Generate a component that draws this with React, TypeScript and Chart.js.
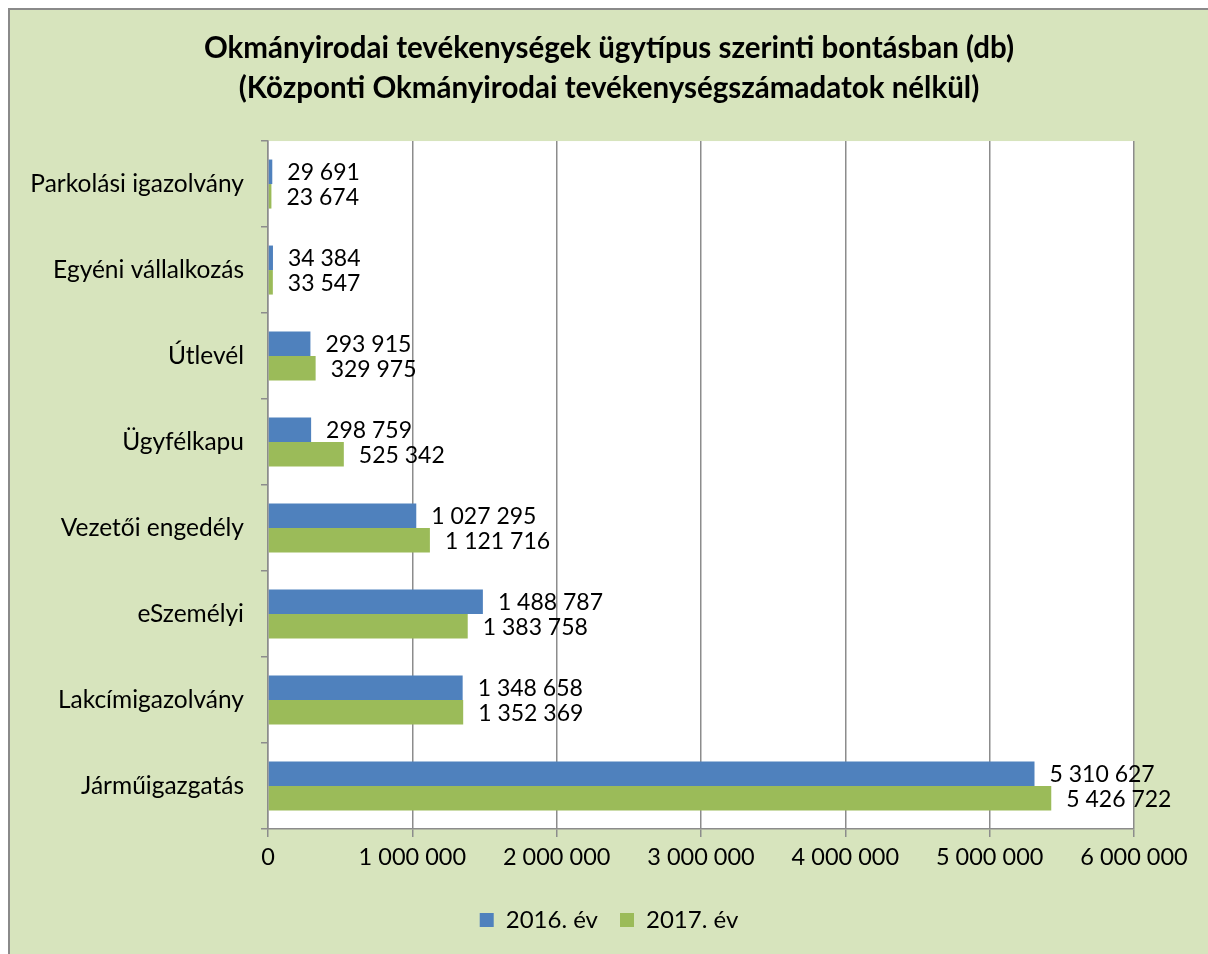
import React, { useEffect, useRef } from "react";
import { Chart, registerables } from "chart.js";

Chart.register(...registerables);

const categories = [
  "Parkolási igazolvány",
  "Egyéni vállalkozás",
  "Útlevél",
  "Ügyfélkapu",
  "Vezetői engedély",
  "eSzemélyi",
  "Lakcímigazolvány",
  "Járműigazgatás",
];
const values2016 = [29691, 34384, 293915, 298759, 1027295, 1488787, 1348658, 5310627];
const values2017 = [23674, 33547, 329975, 525342, 1121716, 1383758, 1352369, 5426722];
const seriesNames = ["2016. év", "2017. év"];
const titleLines = [
  "Okmányirodai tevékenységek ügytípus szerinti bontásban (db)",
  "(Központi Okmányirodai tevékenységszámadatok nélkül)",
];

const fmt = (n: number) => String(Math.round(n)).replace(/\B(?=(\d{3})+(?!\d))/g, " ");

const FONT = "Lato";

const plotBg = {
  id: "plotBg",
  beforeDraw(chart: any) {
    const { ctx, chartArea } = chart;
    ctx.save();
    ctx.fillStyle = "#ffffff";
    ctx.fillRect(chartArea.left, chartArea.top, chartArea.right - chartArea.left, chartArea.bottom - chartArea.top);
    ctx.restore();
  },
};

const valueLabels = {
  id: "valueLabels",
  afterDatasetsDraw(chart: any) {
    const { ctx } = chart;
    ctx.save();
    ctx.font = `23px ${FONT}`;
    ctx.fillStyle = "#000000";
    ctx.textAlign = "left";
    ctx.textBaseline = "middle";
    chart.data.datasets.forEach((ds: any, i: number) => {
      const meta = chart.getDatasetMeta(i);
      meta.data.forEach((el: any, j: number) => {
        ctx.fillText(fmt(ds.data[j]), el.x + 15, el.y + 1);
      });
    });
    ctx.restore();
  },
};

export default function App() {
  const ref = useRef<HTMLCanvasElement>(null);
  useEffect(() => {
    document.documentElement.style.overflow = "hidden";
    const canvas = ref.current!;
    const chart = new Chart(canvas, {
      type: "bar",
      data: {
        labels: categories,
        datasets: [
          { label: seriesNames[0], data: values2016, backgroundColor: "#4f81bd", categoryPercentage: 0.57, barPercentage: 1 },
          { label: seriesNames[1], data: values2017, backgroundColor: "#9bbb59", categoryPercentage: 0.57, barPercentage: 1 },
        ],
      },
      options: {
        indexAxis: "y",
        responsive: false,
        animation: false,
        layout: { padding: { left: 0, right: 0, top: 0, bottom: 12 } },
        font: { family: FONT },
        plugins: {
          title: {
            display: true,
            text: titleLines,
            color: "#000000",
            font: { family: FONT, size: 29.5, weight: "bold", lineHeight: 1.34 },
            padding: { top: 19, bottom: 33 },
          },
          legend: {
            position: "bottom",
            labels: {
              color: "#000000",
              font: { family: FONT, size: 24 },
              boxWidth: 14,
              boxHeight: 14,
              padding: 22,
            },
          },
          tooltip: { enabled: false },
        },
        scales: {
          x: {
            min: 0,
            max: 6000000,
            ticks: {
              stepSize: 1000000,
              color: "#000000",
              font: { family: FONT, size: 23.5 },
              padding: 6,
              maxRotation: 0,
              callback: (v: any) => fmt(Number(v)),
            },
            grid: { color: "#8c8c8c", lineWidth: 1.5, tickLength: 8 },
            border: { display: true, color: "#8c8c8c", width: 1.5 },
            afterFit: (s: any) => {
              s.height = 57;
            },
          },
          y: {
            ticks: {
              color: "#000000",
              font: { family: FONT, size: 24.5 },
              padding: 17,
            },
            grid: { offset: true, drawOnChartArea: false, color: "#8c8c8c", lineWidth: 1.5, tickLength: 7 },
            border: { display: true, color: "#8c8c8c", width: 1.5 },
            afterFit: (s: any) => {
              s.width = 258;
            },
          },
          yRight: {
            axis: "y",
            position: "right",
            display: true,
            ticks: { display: false },
            grid: { display: false },
            border: { display: false },
            afterFit: (s: any) => {
              s.width = 74;
            },
          },
        },
      },
      plugins: [plotBg, valueLabels],
    });
    return () => chart.destroy();
  }, []);
  return (
    <div
      style={{
        position: "fixed",
        left: 8,
        top: 8,
        width: 1200,
        height: 946,
        boxSizing: "border-box",
        background: "#d7e4bd",
        borderLeft: "2px solid #8a8a8a",
        borderTop: "2px solid #8a8a8a",
        overflow: "hidden",
      }}
    >
      <canvas ref={ref} width={1198} height={944} style={{ display: "block", width: 1198, height: 944 }} />
    </div>
  );
}
